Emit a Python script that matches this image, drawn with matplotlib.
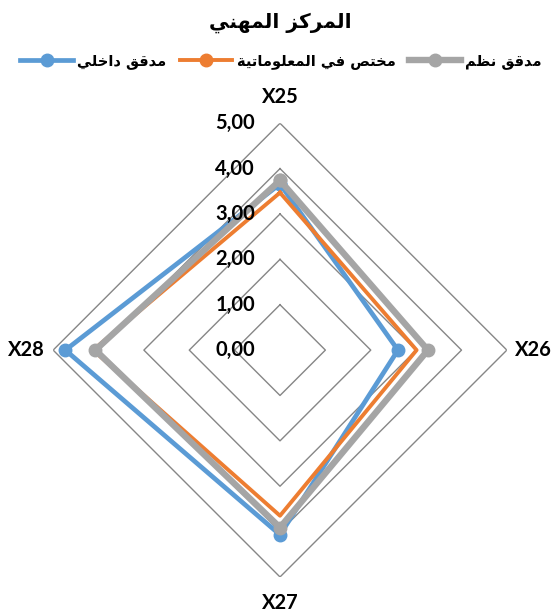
import numpy as np
import matplotlib
matplotlib.use("Agg")
import matplotlib.pyplot as plt
from matplotlib.lines import Line2D
from matplotlib.transforms import offset_copy

# Radar data
axes_labels = ["X25", "X26", "X27", "X28"]
series_names = ["مدقق داخلي", "مختص في المعلوماتية", "مدقق نظم"]
internal_auditor = [3.66, 2.60, 4.07, 4.73]
it_specialist = [3.47, 3.01, 3.65, 4.12]
systems_auditor = [3.74, 3.26, 3.91, 4.07]
rings = [1, 2, 3, 4, 5]
tick_values = [0, 1, 2, 3, 4, 5]
colors = ["#5B9BD5", "#ED7D31", "#A5A5A5"]
widths = [3.4, 2.8, 4.6]
show_markers = [True, False, True]

# minimal Arabic shaping: (isolated, final, initial, medial)
FORMS = {
    "ا": ("\uFE8D", "\uFE8E"),
    "ة": ("\uFE93", "\uFE94"),
    "د": ("\uFEA9", "\uFEAA"),
    "ر": ("\uFEAD", "\uFEAE"),
    "ز": ("\uFEAF", "\uFEB0"),
    "و": ("\uFEED", "\uFEEE"),
    "ت": ("\uFE95", "\uFE96", "\uFE97", "\uFE98"),
    "خ": ("\uFEA5", "\uFEA6", "\uFEA7", "\uFEA8"),
    "ص": ("\uFEB9", "\uFEBA", "\uFEBB", "\uFEBC"),
    "ظ": ("\uFEC5", "\uFEC6", "\uFEC7", "\uFEC8"),
    "ع": ("\uFEC9", "\uFECA", "\uFECB", "\uFECC"),
    "ف": ("\uFED1", "\uFED2", "\uFED3", "\uFED4"),
    "ق": ("\uFED5", "\uFED6", "\uFED7", "\uFED8"),
    "ك": ("\uFED9", "\uFEDA", "\uFEDB", "\uFEDC"),
    "ل": ("\uFEDD", "\uFEDE", "\uFEDF", "\uFEE0"),
    "م": ("\uFEE1", "\uFEE2", "\uFEE3", "\uFEE4"),
    "ن": ("\uFEE5", "\uFEE6", "\uFEE7", "\uFEE8"),
    "ه": ("\uFEE9", "\uFEEA", "\uFEEB", "\uFEEC"),
    "ي": ("\uFEF1", "\uFEF2", "\uFEF3", "\uFEF4"),
}


def shape(text):
    out = []
    for i, ch in enumerate(text):
        f = FORMS.get(ch)
        if f is None:
            out.append(ch)
            continue
        prev = text[i - 1] if i > 0 else ""
        nxt = text[i + 1] if i + 1 < len(text) else ""
        joins_prev = prev in FORMS and len(FORMS[prev]) == 4
        joins_next = len(f) == 4 and nxt in FORMS
        if joins_prev and joins_next:
            out.append(f[3])
        elif joins_prev:
            out.append(f[1])
        elif joins_next:
            out.append(f[2])
        else:
            out.append(f[0])
    return "".join(reversed(out))


latin = ["Lato", "DejaVu Sans"]

fig = plt.figure(figsize=(5.57, 6.14), dpi=100)
ax = fig.add_axes([0.0952, 0.0603, 0.815, 0.739], projection="polar")
ax.set_theta_zero_location("N")
ax.set_theta_direction(-1)
ax.set_ylim(0, 5)
ax.grid(False)
ax.spines["polar"].set_visible(False)
ax.set_xticks([])
ax.set_yticks([])
ax.patch.set_alpha(0)

angles = np.arange(len(axes_labels)) * 2 * np.pi / len(axes_labels)
closed = np.append(angles, angles[0])

# diamond gridlines
for r in rings:
    ax.plot(closed, [r] * len(closed), color="#868686", lw=1.0, zorder=1)

handles = []
for name, vals, c, w, m in zip(series_names,
                               [internal_auditor, it_specialist, systems_auditor],
                               colors, widths, show_markers):
    ax.plot(closed, vals + vals[:1], color=c, lw=w,
            marker="o" if m else None, markersize=9, zorder=3, clip_on=False)
    handles.append(Line2D([], [], color=c, lw=w, marker="o", markersize=9,
                          label=shape(name)))

# radial value labels along the top axis
lab_tr = offset_copy(ax.transData, fig=fig, x=-25, y=0, units="dots")
for v in tick_values:
    ax.text(0, v, f"{v:.2f}".replace(".", ","), transform=lab_tr,
            ha="right", va="center", fontsize=14.5, fontweight="bold",
            family=latin)

for a, lab in zip(angles, axes_labels):
    ax.text(a, 5.58, lab, ha="center", va="center", fontsize=14.5,
            fontweight="bold", family=latin)

fig.text(0.503, 0.963, shape("المركز المهني"), ha="center", va="center",
         fontsize=14.5, fontweight="bold")
fig.legend(handles=handles, loc="center", bbox_to_anchor=(0.505, 0.9), ncol=3,
           frameon=False, handlelength=3.6, columnspacing=0.9,
           handletextpad=0.3, prop={"size": 10.5, "weight": "bold"})

fig.savefig("out.png", dpi=100)
